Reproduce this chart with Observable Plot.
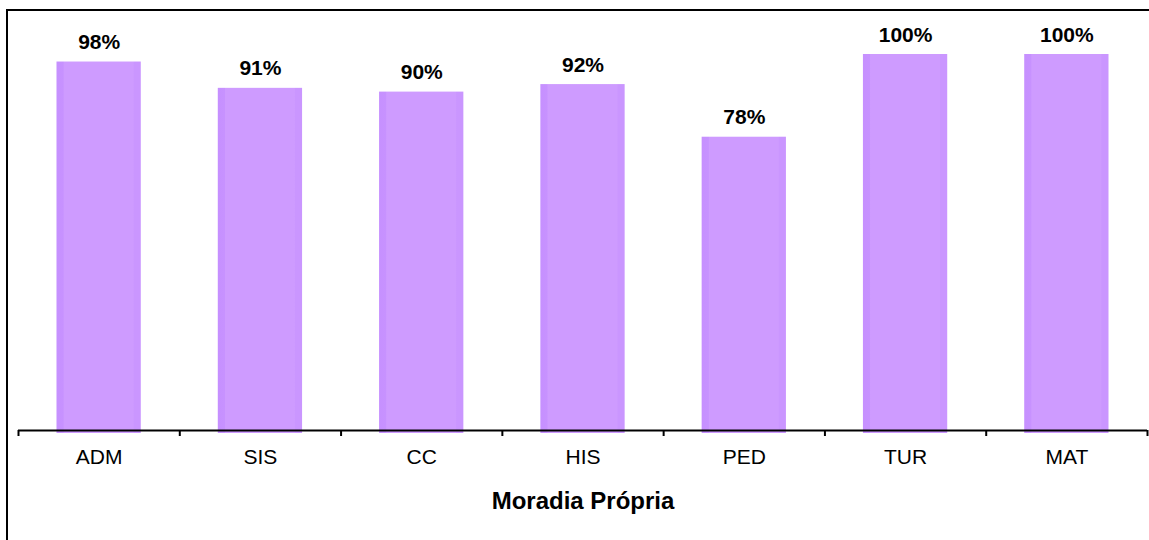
<!DOCTYPE html>
<html>
<head>
<meta charset="utf-8">
<script src="https://cdn.jsdelivr.net/npm/d3@7"></script>
<script src="https://cdn.jsdelivr.net/npm/@observablehq/plot@0.6"></script>
<style>
  html, body { margin: 0; padding: 0; background: #fff; }
  #wrap { position: relative; width: 1149px; height: 540px; overflow: hidden; font-family: "Liberation Sans", Arial, sans-serif; }
  #frame { position: absolute; left: 6px; top: 9px; width: 1200px; height: 600px; border-left: 2px solid #000; border-top: 2px solid #000; }
  #chart { position: absolute; left: 0; top: 0; }
</style>
</head>
<body>
<div id="wrap"><div id="chart"></div><div id="frame"></div></div>
<script>
const categories = ["ADM", "SIS", "CC", "HIS", "PED", "TUR", "MAT"];
const values = [98, 91, 90, 92, 78, 100, 100];
const title = "Moradia Própria";

const data = categories.map((c, i) => ({cat: c, idx: i, value: values[i]}));
const boundaries = d3.range(categories.length + 1);
const centers = categories.map((c, i) => i + 0.5);

const plot = Plot.plot({
  width: 1149,
  height: 540,
  marginLeft: 18,
  marginRight: 2,
  marginTop: 54,
  marginBottom: 110,
  style: {fontFamily: "'Liberation Sans', Arial, sans-serif", background: "transparent"},
  x: {type: "linear", domain: [0, categories.length], label: null},
  y: {domain: [0, 100], axis: null},
  marks: [
    Plot.rectY(data, {
      x1: "idx",
      x2: d => d.idx + 1,
      y1: 0,
      y2: "value",
      insetLeft: 38.5,
      insetRight: 38.5,
      insetBottom: -3,
      fill: "url(#barGrad)"
    }),
    Plot.ruleY([0], {stroke: "#000", strokeWidth: 2}),
    Plot.axisX({ticks: boundaries, tickSize: 6, tickFormat: () => "", strokeWidth: 2, stroke: "#000", label: null}),
    Plot.axisX({ticks: centers, tickSize: 0, tickPadding: 19, tickFormat: v => categories[Math.floor(v)], fontSize: 21, fill: "#000", label: null}),
    Plot.text(data, {
      x: d => d.idx + 0.5,
      y: "value",
      text: d => d.value + "%",
      lineAnchor: "bottom",
      dy: -13,
      fontSize: 21,
      fontWeight: "bold",
      fill: "#000"
    }),
    Plot.text([title], {
      frameAnchor: "bottom",
      lineAnchor: "bottom",
      dy: 78,
      fontSize: 24,
      fontWeight: "bold",
      fill: "#000"
    })
  ]
});

const svg = d3.select(plot);
const defs = svg.insert("defs", ":first-child");
const g = defs.append("linearGradient").attr("id", "barGrad").attr("x1", "0").attr("x2", "1").attr("y1", "0").attr("y2", "0");
[[0, "#C690FF"], [0.08, "#C792FF"], [0.09, "#CE9BFF"], [0.91, "#CE9BFF"], [0.92, "#CA96FF"], [1, "#CA96FF"]].forEach(([o, c]) => g.append("stop").attr("offset", o).attr("stop-color", c));

document.getElementById("chart").appendChild(plot);
</script>
</body>
</html>
